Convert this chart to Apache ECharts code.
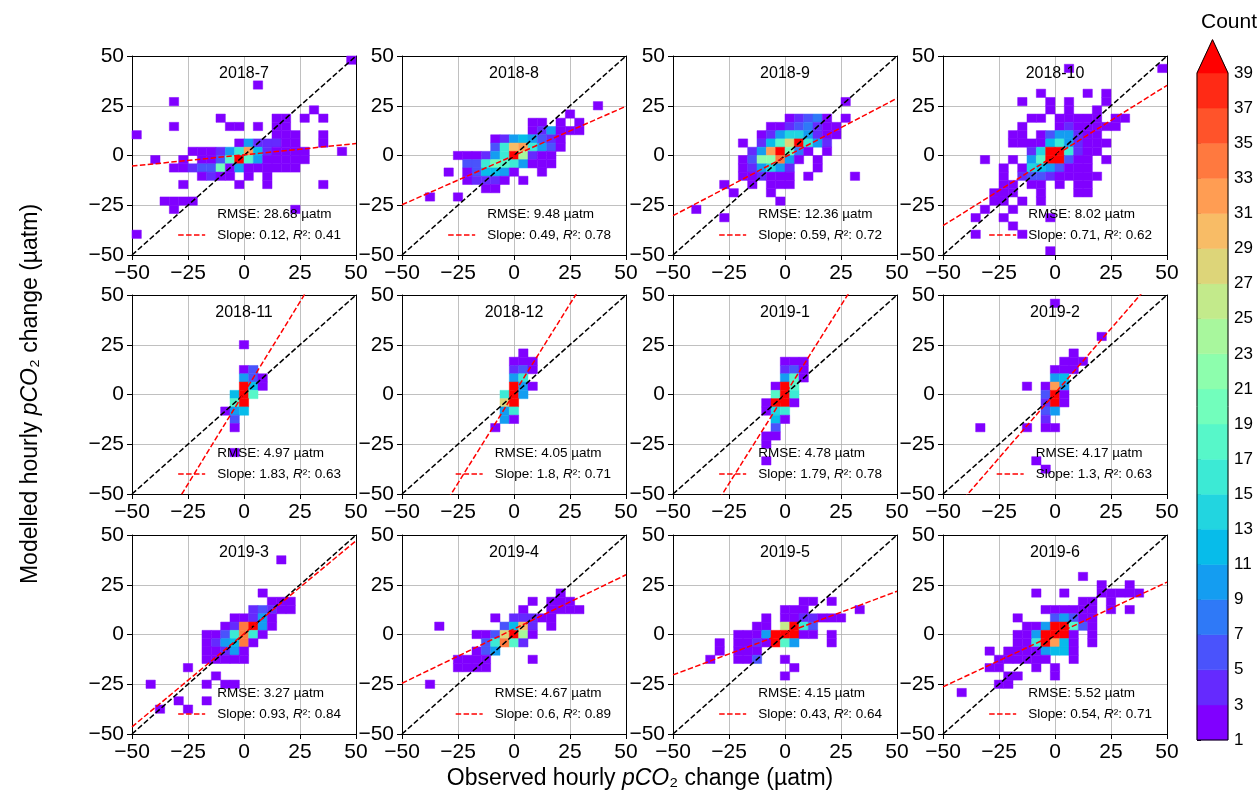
<!DOCTYPE html>
<html><head><meta charset="utf-8">
<script src="https://cdn.jsdelivr.net/npm/echarts@6.0.0/dist/echarts.min.js"></script>
<style>html,body{margin:0;padding:0;background:#fff}#c{width:1258px;height:794px}</style>
</head><body><div id="c"></div>
<script>
// ---------------- DATA ----------------
const PANEL_TITLES = ['2018-7','2018-8','2018-9','2018-10','2018-11','2018-12','2019-1','2019-2','2019-3','2019-4','2019-5','2019-6'];
const RMSE_TEXT = ['28.68','9.48','12.36','8.02','4.97','4.05','4.78','4.17','3.27','4.67','4.15','5.52'];
const SLOPE_TEXT = ['0.12','0.49','0.59','0.71','1.83','1.8','1.79','1.3','0.93','0.6','0.43','0.54'];
const R2_TEXT = ['0.41','0.78','0.72','0.62','0.63','0.71','0.78','0.63','0.84','0.89','0.64','0.71'];
// fitted (red) line as drawn: slope and intercept
const FIT_SLOPE = [0.113,0.495,0.59,0.705,1.83,1.8,1.79,1.3,0.935,0.545,0.42,0.526];
const FIT_INTERCEPT = [0.35,0,-0.75,0,0.8,0.5,0,0.6,0.35,2.75,0.7,0];
// histogram bin edges: width and origin (left/top edge of first bin) per panel
const BIN = 100/24;
const BIN_ORIGIN = [-50,-52.083,-50,-50,-52.083,-52.083,-52.083,-52.083,-52.083,-52.083,-52.083,-52.083];
const COUNT_LEVELS = [1,3,5,7,9,11,13,15,17,19,21,23,25,27,29,31,33,35,37,39];
// 2D histogram counts: row 0 = top bin, col 0 = left bin; char c -> count parseInt(c,36)*2, '.' = empty
const E = '........................';
const HIST_2018_7 = [
'.......................1',E,E,'.............1..........',E,'....1...................','...................1....',
'.........1.....11.1.1...','....1.....11.1.11.......','1..............111..1...','...........1522211..1...',
'......111258g621111...1.','..1..1.1139k9511111.....','....11233a15111111......','.......1211.1.1.........',
'.....1.....1..1.....1...',E,'...1111.................','....1............1......',E,E,'1.......................',E,E];
const HIST_2018_8 = [
E,E,E,E,E,E,'.....................1..','..................1.....','..............11.1.1....',
'..............125111....','..........12565321......','..........38fg8531......','......111258kc211.......',
'.......338a985111.......','.....1.136651..1........','.......12221.1..........','.........11.............',
'...1..1.................',E,E,E,E,E,E];
const HIST_2018_9 = [
E,E,E,E,E,'..................1.....',E,'............12341.1.....','..........11234211......',
'.........125775211......','.......1.269ek852.......','........25gka41.1.......','.......13bbh51.1........',
'.......125752..1........','.......112111.1....1....','.....1..1.111...........','......1...1.............',
'...........1............','..1.....................','.....1..................',E,E,E,E];
const HIST_2018_10 = [
E,'.............1.........1',E,E,'..........1....1.1......','........1..1.1...1......','...........1.1..1.......',
'.........11.11111.11....','........1...1211111.....','.......11.1355211.......','.......11116852111......',
'.........27kk8211.......','....1..1.59kk311.1......','......1.17653111........','......1.233211111.......',
'......11.11.1.11........','.....111..1...11........','.....11.1.1.............','....1..1................',
'...1..1....1............','.......1................','...1....1...............',E,'...........1............'];
const HIST_2018_11 = [
E,E,E,E,E,E,'............1...........',E,E,'............13..........','............531.........',
'............k61.........','...........6k9..........','...........9k...........','..........156...........',
'...........3............','...........1............',E,E,'...........1............',E,E,E,E];
const HIST_2018_12 = [
E,E,E,E,E,E,E,'.............1..........','............111.........','............231.........',
'............58..........','............k51.........','...........8k5..........','...........ek...........',
'...........58...........','...........51...........','..........1.............',E,E,E,E,E,E,E];
const HIST_2019_1 = [
E,E,E,E,E,E,E,E,'............111.........','............231.........','............591.........',
'...........1k9..........','...........9k8..........','..........1kk1..........','..........178...........',
'...........61...........','...........3............','..........11............','..........1.............',
E,'..........1.............',E,E,E];
const HIST_2019_2 = [
E,'............1...........',E,E,E,'.................1......',E,'..............1.........',
'.............111........','............111.........','............56..........','.........1.1g5..........',
'...........3k1..........','...........2k1..........','...........35...........','...........2............',
'....1....1.11...........',E,E,E,'..........1.............','...........1............',E,E];
const HIST_2019_3 = [
E,E,E,'................1.......',E,E,E,'..............1.........','...............111......',
'.............23211......','...........11251........','..........12hk51........','........1138h81.........',
'........1256h1..........','........11251...........','........11111...........','......1.................',
'.........1..............','..1.....1.11............',E,'.....1..1...............','...1..1.................',E,E];
const HIST_2019_4 = [
E,E,E,E,E,E,E,'.................1......','..............1.111.....','.............1..1111....',
'..........1.22211.......','....1......36f2.1.......','........113ekc1.........','.........38h92..........',
'........135.............','......1111....1.........','......1111..............',E,'...1....................',E,E,E,E,E];
const HIST_2019_5 = [
E,E,E,E,E,E,E,E,'..............11.1......','............111.....1...','..........1.1122111.....',
'.........11.dk83........','.......1115kkk11.1......','.....1.1121k95...1......','.....1.111..............',
'....1..113..1...........','.............1..........','............1...........',E,E,E,E,E,E];
const HIST_2019_6 = [
E,E,E,E,E,'...............1........','.................1..1...','..........1..1...11111..',
'...............11.1.....','...........111111.1.1...','........1...35311.......','.........115kk931.......',
'........115kkk1.1.......','........118kg61.1.......','.....1.11115661.........','......111111..1.........',
'.....11...1.1...........','.......11...1...........','......11................','..1.....................',E,E,E,E];
const HISTS = [HIST_2018_7,HIST_2018_8,HIST_2018_9,HIST_2018_10,HIST_2018_11,HIST_2018_12,
               HIST_2019_1,HIST_2019_2,HIST_2019_3,HIST_2019_4,HIST_2019_5,HIST_2019_6];

// ---------------- LAYOUT / STYLE ----------------
const FONT = '"Liberation Sans", Arial, sans-serif';
const COL_LEFT = [132, 402, 673, 943];
const ROW_TOP = [56, 295, 535];
const PW = 224, PH = 199;
const CB = {left:1197, top:73, width:31, height:667};

function rainbow(t){
  const r = Math.min(1, Math.abs(2*t-0.5));
  const g = Math.max(0, Math.sin(Math.PI*t));
  const b = Math.max(0, Math.cos(Math.PI*t/2));
  return 'rgb('+Math.round(r*255)+','+Math.round(g*255)+','+Math.round(b*255)+')';
}
const NB = COUNT_LEVELS.length - 1; // 19 bands + over
function countColor(n){
  let i = NB;
  for (let k=0;k<NB;k++){ if (n>=COUNT_LEVELS[k] && n<COUNT_LEVELS[k+1]) { i=k; break; } }
  return rainbow(i/NB);
}
function cellsFrom(rows, origin){
  const out=[]; const top=-origin;
  rows.forEach((row,r)=>{ for(let c=0;c<row.length;c++){ const ch=row[c]; if(ch==='.') continue;
    out.push([origin+c*BIN, top-r*BIN, parseInt(ch,36)*2]); } });
  return out;
}
const fmt = v => v<0 ? '\u2212'+Math.abs(v) : String(v);

const mctx = document.createElement('canvas').getContext('2d');
function tw(t, size, italic){ mctx.font=(italic?'italic ':'')+size+'px '+FONT; return mctx.measureText(t).width; }

function histRender(params, api){
  const x0=api.value(0), y0=api.value(1), n=api.value(2);
  const a=api.coord([x0,y0]), b=api.coord([x0+BIN,y0-BIN]);
  const cs=params.coordSys;
  const shape=echarts.graphic.clipRectByRect({x:a[0],y:a[1],width:b[0]-a[0],height:b[1]-a[1]},
      {x:cs.x,y:cs.y,width:cs.width,height:cs.height});
  if(!shape) return null;
  const col=countColor(n);
  return {type:'rect', shape:shape, style:{fill:col, stroke:col, lineWidth:0.5}};
}

const grids=[], xAxes=[], yAxes=[], series=[], graphics=[];
const TS = 13.5;
for (let p=0;p<12;p++){
  const left=COL_LEFT[p%4], top=ROW_TOP[Math.floor(p/4)];
  grids.push({left:left, top:top, width:PW, height:PH, containLabel:false, outerBoundsMode:'none'});
  const base = {gridIndex:p, type:'value', min:-50, max:50, interval:25};
  xAxes.push(Object.assign({}, base, {position:'bottom',
    axisLine:{show:true,onZero:false,lineStyle:{color:'#000',width:1}},
    axisTick:{show:true,length:5,lineStyle:{color:'#000',width:1}},
    axisLabel:{show:true,fontSize:21,color:'#000',margin:8,formatter:fmt,showMinLabel:true,showMaxLabel:true,fontFamily:FONT},
    splitLine:{show:true,showMinLine:false,showMaxLine:false,lineStyle:{color:'#b0b0b0',width:0.8}}}));
  xAxes.push(Object.assign({}, base, {position:'top',
    axisLine:{show:true,onZero:false,lineStyle:{color:'#000',width:1}},
    axisTick:{show:false}, axisLabel:{show:false}, splitLine:{show:false}}));
  yAxes.push(Object.assign({}, base, {position:'left',
    axisLine:{show:true,onZero:false,lineStyle:{color:'#000',width:1}},
    axisTick:{show:true,length:5,lineStyle:{color:'#000',width:1}},
    axisLabel:{show:true,fontSize:21,color:'#000',margin:8,formatter:fmt,showMinLabel:true,showMaxLabel:true,fontFamily:FONT},
    splitLine:{show:true,showMinLine:false,showMaxLine:false,lineStyle:{color:'#b0b0b0',width:0.8}}}));
  yAxes.push(Object.assign({}, base, {position:'right',
    axisLine:{show:true,onZero:false,lineStyle:{color:'#000',width:1}},
    axisTick:{show:false}, axisLabel:{show:false}, splitLine:{show:false}}));
  const xi=2*p, yi=2*p;
  series.push({type:'custom', xAxisIndex:xi, yAxisIndex:yi, renderItem:histRender,
    data:cellsFrom(HISTS[p], BIN_ORIGIN[p]), encode:{x:0,y:1}, z:2, silent:true});
  series.push({type:'line', xAxisIndex:xi, yAxisIndex:yi, data:[[-50,-50],[50,50]], symbol:'none',
    lineStyle:{color:'#000',width:1.5,type:[5.5,2.4]}, z:4, silent:true, clip:true});
  const m=FIT_SLOPE[p], c=FIT_INTERCEPT[p];
  series.push({type:'line', xAxisIndex:xi, yAxisIndex:yi, data:[[-50,c-50*m],[50,c+50*m]], symbol:'none',
    lineStyle:{color:'#ff0000',width:1.5,type:[5.5,2.4]}, z:5, silent:true, clip:true});

  graphics.push({type:'text', x:left+PW/2, y:top+18, z:10, silent:true,
    style:{text:PANEL_TITLES[p], fontSize:16, fontFamily:FONT, fill:'#000', align:'center', verticalAlign:'middle', textAlign:'center', textVerticalAlign:'middle'}});
  const rm = 'RMSE: '+RMSE_TEXT[p]+' \u00b5atm';
  const s1 = 'Slope: '+SLOPE_TEXT[p]+', ', s3 = '\u00b2: '+R2_TEXT[p];
  const wS = tw(s1,TS)+tw('R',TS,true)+tw(s3,TS);
  const wR = tw(rm,TS);
  const tl = left + 209 - Math.max(wS,wR);
  graphics.push({type:'text', x:tl, y:top+158, z:10, silent:true,
    style:{text:rm, fontSize:TS, fontFamily:FONT, fill:'#000', align:'left', verticalAlign:'middle', textAlign:'left', textVerticalAlign:'middle'}});
  graphics.push({type:'text', x:tl, y:top+179, z:10, silent:true,
    style:{text:'{n|'+s1+'}{i|R}{n|'+s3+'}', align:'left', verticalAlign:'middle', textAlign:'left', textVerticalAlign:'middle',
      fontSize:TS, fontFamily:FONT, fill:'#000',
      rich:{n:{fontSize:TS,fontFamily:FONT,fill:'#000',color:'#000'},
            i:{fontSize:TS,fontFamily:FONT,fontStyle:'italic',fill:'#000',color:'#000'}}}});
  graphics.push({type:'line', z:10, silent:true, shape:{x1:tl-39,y1:top+179,x2:tl-12,y2:top+179},
    style:{stroke:'#ff0000', lineWidth:1.5, lineDash:[5.5,2.4]}});
}

// colorbar
grids.push({left:CB.left, top:CB.top, width:CB.width, height:CB.height, containLabel:false, outerBoundsMode:'none'});
xAxes.push({gridIndex:12, type:'value', min:0, max:1, show:false});
yAxes.push({gridIndex:12, type:'value', min:COUNT_LEVELS[0], max:COUNT_LEVELS[NB], interval:2, position:'right',
  axisLine:{show:false}, axisTick:{show:true,length:4,lineStyle:{color:'#000',width:1}},
  axisLabel:{fontSize:17,color:'#000',margin:6,fontFamily:FONT,showMinLabel:true,showMaxLabel:true}, splitLine:{show:false}});
const CB_BANDS = COUNT_LEVELS.slice(0,-1).map((lo,i)=>[lo, COUNT_LEVELS[i+1], i]);
series.push({type:'custom', xAxisIndex:24, yAxisIndex:24, data:CB_BANDS, silent:true, z:2,
  renderItem:(params, api)=>{
    const lo=api.value(0), hi=api.value(1), i=api.value(2);
    const a=api.coord([0,lo]), b=api.coord([1,hi]);
    const col=rainbow(i/NB);
    return {type:'rect', shape:{x:a[0], y:b[1], width:b[0]-a[0], height:a[1]-b[1]}, style:{fill:col, stroke:col, lineWidth:0.5}};
  }});
const EXT = (COUNT_LEVELS[NB]-COUNT_LEVELS[0])*0.05;
series.push({type:'custom', xAxisIndex:24, yAxisIndex:24, data:[[COUNT_LEVELS[0], COUNT_LEVELS[NB]]], silent:true, z:3,
  renderItem:(params, api)=>{
    const lo=api.value(0), hi=api.value(1);
    const p0=api.coord([0,lo]), p1=api.coord([0,hi]), p2=api.coord([0.5,hi+EXT]), p3=api.coord([1,hi]), p4=api.coord([1,lo]);
    return {type:'group', children:[
      {type:'polygon', shape:{points:[p1,p3,p2]}, style:{fill:rainbow(1), stroke:rainbow(1), lineWidth:0.5}},
      {type:'polygon', shape:{points:[p0,p1,p2,p3,p4]}, style:{fill:'none', stroke:'#000', lineWidth:1}}
    ]};
  }});

graphics.push({type:'text', x:1229, y:22, silent:true,
  style:{text:'Count', fontSize:21, fontFamily:FONT, fill:'#000', align:'center', verticalAlign:'middle', textAlign:'center', textVerticalAlign:'middle'}});
const RICH_AX = {n:{fontSize:23,fontFamily:FONT,fill:'#000',color:'#000'}, i:{fontSize:23,fontFamily:FONT,fontStyle:'italic',fill:'#000',color:'#000'}};
graphics.push({type:'text', x:640, y:779, silent:true,
  style:{text:'{n|Observed hourly }{i|pCO}{n|\u2082 change (\u00b5atm)}', rich:RICH_AX, fontSize:23, fontFamily:FONT,
    align:'center', verticalAlign:'middle', textAlign:'center', textVerticalAlign:'middle'}});
graphics.push({type:'text', x:31, y:394, rotation:Math.PI/2, silent:true,
  style:{text:'{n|Modelled hourly }{i|pCO}{n|\u2082 change (\u00b5atm)}', rich:RICH_AX, fontSize:23, fontFamily:FONT,
    align:'center', verticalAlign:'middle', textAlign:'center', textVerticalAlign:'middle'}});

const chart = echarts.init(document.getElementById('c'), null, {renderer:'canvas', width:1258, height:794});
chart.setOption({
  animation:false, backgroundColor:'#fff', textStyle:{fontFamily:FONT},
  grid:grids, xAxis:xAxes, yAxis:yAxes, series:series, graphic:{elements:graphics}
});
</script></body></html>
